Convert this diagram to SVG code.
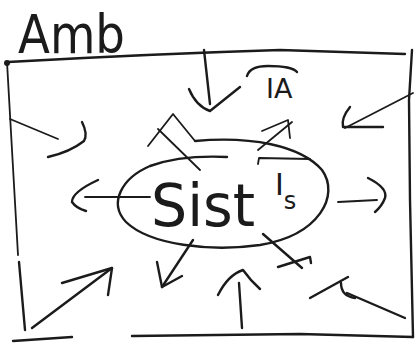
<svg xmlns="http://www.w3.org/2000/svg" width="419" height="345" viewBox="0 0 419 345">
  <style>
    .ink { fill: none; stroke: #1b1b1b; stroke-width: 2.4; stroke-linecap: round; stroke-linejoin: round; }
    .thin { stroke-width: 1.8; }
    .hand { font-family: "DejaVu Sans", "Liberation Sans", sans-serif; fill: #1b1b1b; }
  </style>
  <rect width="419" height="345" fill="#ffffff"/>

  <!-- Environment: the surrounding frame and its label -->
  <g id="ambiente">
    <path class="ink" d="M8,62 Q150,54 280,50 L405,54"/>
    <path class="ink" d="M412,50 L409,100 L410,200 L413,337"/>
    <path class="ink" d="M413,337 L300,334 L132,336"/>
    <path class="ink" d="M72,337 L13,341"/>
    <path class="ink thin" d="M7,62 L12,150 L18,255"/>
    <path class="ink" d="M19,262 L25,330"/>
    <circle cx="7" cy="63" r="3" fill="#1b1b1b"/>
    <text class="hand" x="18" y="53" font-size="54" textLength="107" lengthAdjust="spacingAndGlyphs">Amb</text>
  </g>

  <!-- System: the central ellipse and its label -->
  <g id="sistema">
    <path class="ink" d="M195,141 C250,136 300,145 322,170 C340,195 320,235 260,245 C210,252 150,245 126,222 C108,203 122,178 150,166 C175,157 205,156 227,157"/>
    <text class="hand" x="151" y="226" font-size="58" textLength="104" lengthAdjust="spacingAndGlyphs">Sist</text>
  </g>

  <!-- Input label -->
  <g id="ia">
    <path class="ink" d="M247,76 Q250,66 268,66 Q292,66 297,72"/>
    <text class="hand" x="266" y="98" font-size="27">IA</text>
  </g>

  <!-- Output label -->
  <g id="is">
    <path class="ink thin" d="M258,164 L259,158 L310,159"/>
    <text class="hand" x="275" y="195" font-size="30">I<tspan dy="14" font-size="24">s</tspan></text>
  </g>

  <!-- Flows between environment and system -->
  <g id="connectors">
    <!-- from the top -->
    <path class="ink" d="M204,50 L210,104"/>
    <path class="ink" d="M189,89 Q196,106 210,111 L240,87"/>
    <!-- upper left, inward -->
    <path class="ink thin" d="M10,119 L58,139"/>
    <path class="ink" d="M82,122 Q88,134 84,141 Q70,152 48,157"/>
    <!-- upper right, inward -->
    <path class="ink thin" d="M413,93 L345,128"/>
    <path class="ink" d="M350,107 Q341,118 343,127 L383,127"/>
    <!-- left, outward -->
    <path class="ink thin" d="M85,197 L150,197"/>
    <path class="ink" d="M98,180 Q72,192 72,202 Q76,208 86,211"/>
    <!-- right, outward -->
    <path class="ink thin" d="M338,202 L377,200"/>
    <path class="ink" d="M368,178 Q388,188 385,198 Q382,206 375,212"/>
    <!-- upper left, crossed arrow -->
    <path class="ink thin" d="M148,146 L173,114 L195,141"/>
    <path class="ink thin" d="M158,129 L200,170"/>
    <!-- upper right, outward -->
    <path class="ink thin" d="M258,150 L292,122"/>
    <path class="ink thin" d="M262,131 L288,120 L290,138"/>
    <!-- lower left, inward -->
    <path class="ink" d="M32,328 L112,268"/>
    <path class="ink" d="M62,283 L112,268 L108,295"/>
    <!-- below, outward -->
    <path class="ink" d="M193,240 L162,287"/>
    <path class="ink" d="M157,262 L162,287 L182,276"/>
    <!-- from the bottom -->
    <path class="ink" d="M242,328 L239,283"/>
    <path class="ink" d="M218,295 Q228,275 243,270 Q250,280 260,289"/>
    <!-- lower right, crossed arrow -->
    <path class="ink" d="M263,234 L302,268"/>
    <path class="ink" d="M278,267 L310,257 L311,263"/>
    <!-- lower right corner, inward -->
    <path class="ink" d="M310,298 L348,277"/>
    <path class="ink" d="M341,283 Q341,296 355,298"/>
    <path class="ink" d="M347,293 L405,318"/>
  </g>
</svg>
